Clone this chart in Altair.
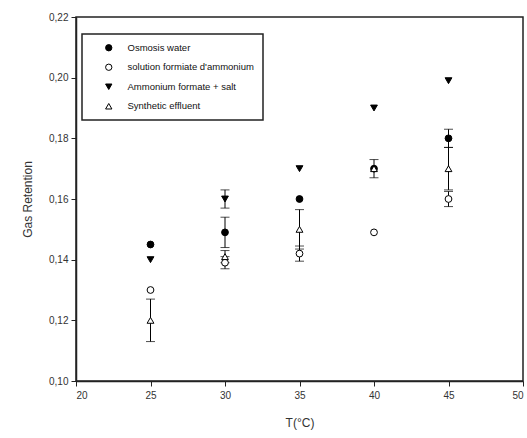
import altair as alt
import pandas as pd

temps = [25, 30, 35, 40, 45]
series_names = ["Osmosis water", "solution formiate d'ammonium",
                "Ammonium formate + salt", "Synthetic effluent"]
osmosis = [0.145, 0.149, 0.160, 0.170, 0.180]
osmosis_err = [0.0, 0.005, 0.0, 0.0, 0.003]
solution = [0.130, 0.139, 0.142, 0.149, 0.160]
solution_err = [0.0, 0.002, 0.0025, 0.0, 0.0025]
salt = [0.140, 0.160, 0.170, 0.190, 0.199]
salt_err = [0.0, 0.003, 0.0, 0.0, 0.0]
synthetic = [0.120, 0.141, 0.150, 0.170, 0.170]
synthetic_err = [0.007, 0.002, 0.0065, 0.003, 0.007]

shapes = ["circle", "circle", "triangle-down", "triangle-up"]
fills = ["black", "white", "black", "white"]
strokes = ["black", "black", "black", "black"]
y_ticks = [0.10, 0.12, 0.14, 0.16, 0.18, 0.20, 0.22]
x_ticks = [20, 25, 30, 35, 40, 45, 50]

rows = []
for name, vals, errs in zip(series_names,
                            [osmosis, solution, salt, synthetic],
                            [osmosis_err, solution_err, salt_err, synthetic_err]):
    for t, v, e in zip(temps, vals, errs):
        rows.append({"T": t, "series": name, "value": v,
                     "lo": v - e, "hi": v + e, "has_err": e > 0})
df = pd.DataFrame(rows)

x = alt.X("T:Q", scale=alt.Scale(domain=[20, 50], nice=False),
          axis=alt.Axis(values=x_ticks, title="T(°C)", format="d"))
y = alt.Y("value:Q", scale=alt.Scale(domain=[0.10, 0.22], nice=False, zero=False),
          axis=alt.Axis(values=y_ticks, title="Gas Retention",
                        labelExpr="replace(format(datum.value, '.2f'), '.', ',')"))

base = alt.Chart(df)
err_df = base.transform_filter("datum.has_err")

bars = err_df.mark_rule(color="black", strokeWidth=1).encode(
    x=x, y=alt.Y("lo:Q"), y2="hi:Q")
cap_lo = err_df.mark_tick(color="black", orient="horizontal", size=9, thickness=1).encode(
    x=x, y=alt.Y("lo:Q"))
cap_hi = err_df.mark_tick(color="black", orient="horizontal", size=9, thickness=1).encode(
    x=x, y=alt.Y("hi:Q"))

points = base.mark_point(filled=False, strokeWidth=1, opacity=1).encode(
    x=x, y=y,
    shape=alt.Shape("series:N", scale=alt.Scale(domain=series_names, range=shapes),
                    legend=alt.Legend(title=None)),
    fill=alt.Fill("series:N", scale=alt.Scale(domain=series_names, range=fills),
                  legend=alt.Legend(title=None)),
    stroke=alt.Stroke("series:N", scale=alt.Scale(domain=series_names, range=strokes),
                      legend=alt.Legend(title=None)),
    size=alt.value(46),
)

chart = alt.layer(bars, cap_lo, cap_hi, points).properties(
    width=447, height=364,
    autosize=alt.AutoSizeParams(type="none"),
    padding={"left": 76, "top": 17, "right": 4, "bottom": 57},
).configure_view(
    stroke="#222", strokeWidth=1.5
).configure_axis(
    domainColor="#222", domainWidth=1.5, tickColor="#222", tickSize=5, tickWidth=1,
    grid=False, labelFont="Liberation Sans", labelFontSize=10, labelColor="#333",
    titleFont="Liberation Sans", titleFontSize=12, titleColor="#333", titleFontWeight="normal",
).configure_axisY(
    titlePadding=14, labelPadding=3
).configure_axisX(
    titlePadding=17, labelPadding=4
).configure_legend(
    orient="none", legendX=6, legendY=17,
    strokeColor="#222", strokeWidth=1.5, fillColor="white",
    padding=9, rowPadding=8.5, symbolOffset=13, labelOffset=14,
    labelFont="Liberation Sans", labelFontSize=9.5, labelColor="#111",
    symbolStrokeColor="black", symbolStrokeWidth=1, symbolSize=40,
)

chart.save("out.html", embed_options={"renderer": "svg", "actions": False})
